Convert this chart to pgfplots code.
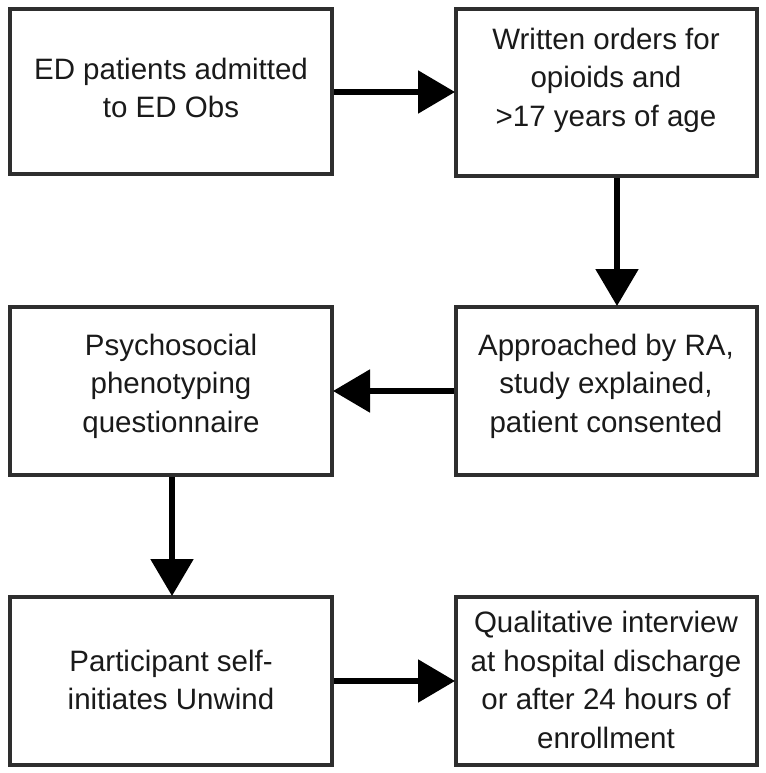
\documentclass[border=0pt]{standalone}
\usepackage{pgfplots}
\pgfplotsset{compat=1.18}
\usepackage{fontspec}
\setmainfont{Liberation Sans}
\usetikzlibrary{arrows.meta}
\definecolor{boxc}{HTML}{2E2E2E}
\definecolor{txtc}{HTML}{1A1A1A}
\begin{document}
\begin{tikzpicture}
\begin{axis}[
  width=765pt, height=773pt, scale only axis,
  xmin=0, xmax=765, ymin=0, ymax=773, y dir=reverse,
  hide axis, clip=false,
]
\path (axis cs:0,0) rectangle (axis cs:765,773);
% boxes
\addplot[boxc, line width=4pt, line join=miter] coordinates {(10,9) (332,9) (332,174) (10,174) (10,9)} -- cycle;
\addplot[boxc, line width=4pt] coordinates {(456,9) (757,9) (757,176) (456,176) (456,9)} -- cycle;
\addplot[boxc, line width=4pt] coordinates {(10,307) (332,307) (332,475) (10,475) (10,307)} -- cycle;
\addplot[boxc, line width=4pt] coordinates {(456,307) (757,307) (757,475) (456,475) (456,307)} -- cycle;
\addplot[boxc, line width=4pt] coordinates {(10,597) (332,597) (332,765) (10,765) (10,597)} -- cycle;
\addplot[boxc, line width=4pt] coordinates {(456,597) (757,597) (757,765) (456,765) (456,597)} -- cycle;
% arrows
\addplot[black, line width=5.5pt, -{Triangle[length=37pt,width=42pt]}] coordinates {(334,92) (455,92)};
\addplot[black, line width=5.5pt, -{Triangle[length=37pt,width=42pt]}] coordinates {(617,178) (617,306)};
\addplot[black, line width=5.5pt, -{Triangle[length=37pt,width=42pt]}] coordinates {(454,391) (333,391)};
\addplot[black, line width=5.5pt, -{Triangle[length=37pt,width=42pt]}] coordinates {(172,477) (172,596)};
\addplot[black, line width=5.5pt, -{Triangle[length=37pt,width=42pt]}] coordinates {(334,681) (455,681)};
% text
\tikzset{bt/.style={align=center, text=txtc, font=\fontsize{29.5}{38.5}\selectfont, inner sep=0pt}}
\node[bt] at (axis cs:171,88) {ED patients admitted\\to ED Obs};
\node[bt] at (axis cs:606,80) {Written orders for\\opioids and\\>17 years of age};
\node[bt] at (axis cs:171,386) {Psychosocial\\phenotyping\\questionnaire};
\node[bt] at (axis cs:606,386) {Approached by RA,\\study explained,\\patient consented};
\node[bt] at (axis cs:171,680) {Participant self-\\initiates Unwind};
\node[bt] at (axis cs:606,680) {Qualitative interview\\at hospital discharge\\or after 24 hours of\\enrollment};
\end{axis}
\end{tikzpicture}
\end{document}
